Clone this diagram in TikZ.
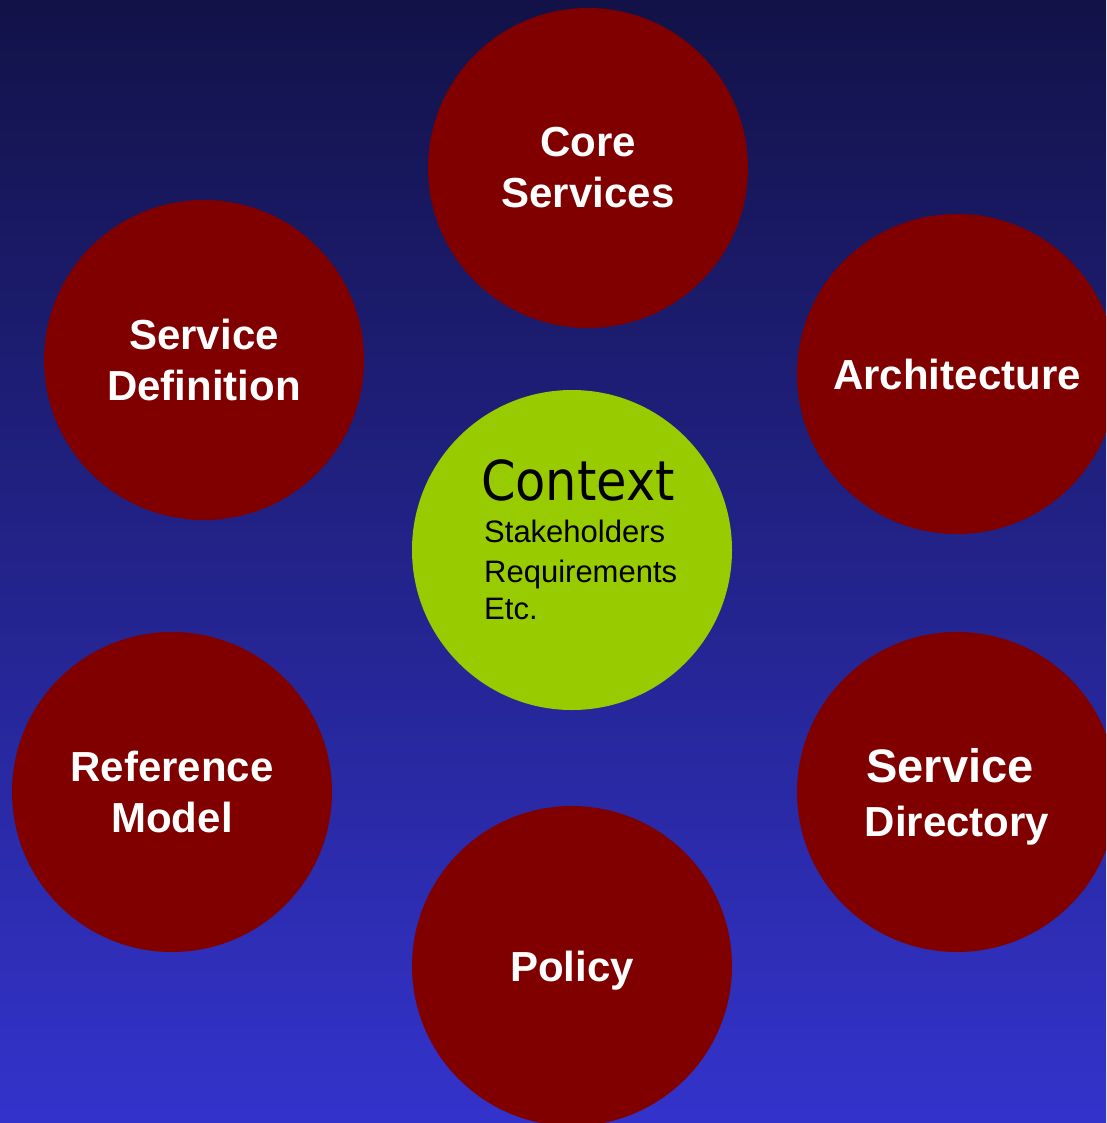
\documentclass[tikz,border=0pt]{standalone}
\usepackage{fontspec}
\setmainfont{Liberation Sans}
\newfontfamily\ctxfont[FakeStretch=0.9]{DejaVu Sans}
\usepackage{xcolor}
\usepackage{tikz}

\definecolor{topicred}{HTML}{800000}
\definecolor{hubgreen}{HTML}{99CC00}
\definecolor{skytop}{HTML}{121248}
\definecolor{skybottom}{HTML}{3333CC}

\begin{document}
\begin{tikzpicture}[x=1pt,y=-1pt,
	topic/.style={circle,fill=topicred,minimum size=320pt,inner sep=0pt,
		text=white,align=center,font=\fontsize{42}{51}\selectfont\bfseries},
	hub/.style={circle,fill=hubgreen,minimum size=320pt,inner sep=0pt},
	hubtitle/.style={anchor=base,inner sep=0pt,font=\ctxfont\fontsize{55}{60}\selectfont},
	hubitem/.style={anchor=base west,inner sep=0pt,font=\fontsize{31}{38}\selectfont}]
	\path[use as bounding box,clip] (0,0) rectangle (1106,1123);
	\shade[top color=skytop,bottom color=skybottom] (0,0) rectangle (1106,1123);
	
	% outer ring
	\node[topic] (core) at (588,168) {Core\\Services};
	\node[topic] (servdef) at (204,360) {Service\\Definition};
	\node[topic] (arch) at (957,374) {Architecture};
	\node[topic] (refmodel) at (172,792) {Reference\\Model};
	\node[topic,text depth=0pt] (servdir) at (957,792)
		{{\fontsize{47}{51}\selectfont Service}\hspace*{14pt}\\[3pt]Directory};
	\node[topic,text depth=0pt] (policy) at (572,966) {Policy};
	
	% centre
	\node[hub] (context) at (572,550) {};
	\node[hubtitle] (ctxtitle) at (578,500) {Context};
	\node[hubitem] (stake) at (484,542) {Stakeholders};
	\node[hubitem] (req) at (484,582) {Requirements};
	\node[hubitem] (etc) at (484,619) {Etc.};
\end{tikzpicture}
\end{document}
